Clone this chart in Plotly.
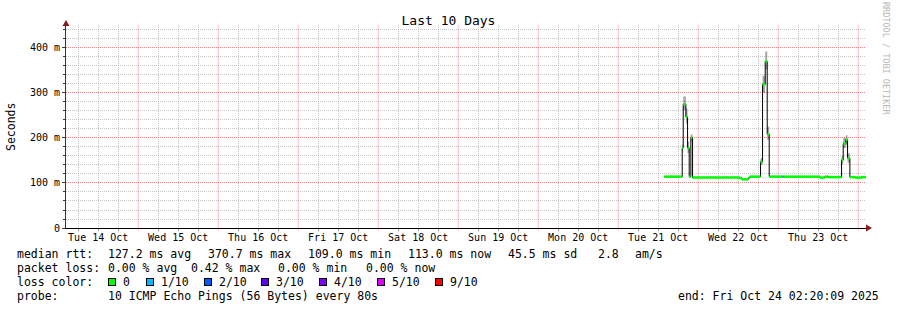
import pandas as pd
import plotly.graph_objects as go

# ---------------- data ----------------
START = "2025-10-14 02:20:09"
END = "2025-10-24 02:20:09"

times = [
    "2025-10-21 13:48", "2025-10-21 19:12", "2025-10-21 19:30", "2025-10-21 20:18",
    "2025-10-21 20:48", "2025-10-21 21:18", "2025-10-21 21:48", "2025-10-21 22:18",
    "2025-10-22 12:30", "2025-10-22 13:06", "2025-10-22 15:00", "2025-10-22 15:30",
    "2025-10-22 18:42", "2025-10-22 19:18", "2025-10-22 20:06", "2025-10-22 20:42",
    "2025-10-22 21:18", "2025-10-23 01:18", "2025-10-23 01:42", "2025-10-23 12:30",
    "2025-10-23 14:00", "2025-10-23 15:00", "2025-10-23 19:00", "2025-10-23 19:30",
    "2025-10-23 20:18", "2025-10-23 20:48", "2025-10-23 21:30", "2025-10-23 23:00",
    "2025-10-24 01:00",
]
median_ms = [114, 178, 275, 247, 178, 114, 201, 112,
             111, 108, 111, 114, 147, 319, 370, 208,
             114, 114, 114, 112, 114, 113, 151, 188,
             196, 155, 113, 112, 113]
smoke_lo_ms = [113, 170, 262, 232, 166, 113, 192, 111,
               110, 107, 110, 113, 140, 300, 352, 196,
               113, 113, 113, 111, 113, 112, 142, 178,
               184, 145, 112, 111, 112]
smoke_hi_ms = [116, 186, 292, 265, 192, 116, 208, 114,
               113, 110, 113, 116, 155, 338, 392, 225,
               116, 116, 116, 114, 116, 115, 160, 200,
               206, 166, 115, 114, 115]
loss_count = [0, 0, 0, 0, 0, 0, 0, 0,
              0, 0, 0, 0, 0, 0, 0, 0,
              0, 1, 0, 0, 0, 0, 0, 0,
              0, 0, 0, 0, 0]

loss_labels = ["0", "1/10", "2/10", "3/10", "4/10", "5/10", "9/10"]
loss_levels = [0, 1, 2, 3, 4, 5, 9]
loss_colors = ["#00ff00", "#00b8ff", "#0059ff", "#5e00ff", "#7e00ff", "#dd00ff", "#ff0000"]

y_tickvals = [0, 100, 200, 300, 400]
y_ticktext = ["0", "100 m", "200 m", "300 m", "400 m"]

stats_median = ["127.2 ms avg", "370.7 ms max", "109.0 ms min", "113.0 ms now", "45.5 ms sd", "2.8", "am/s"]
stats_loss = ["0.00 % avg", "0.42 % max", "0.00 % min", "0.00 % now"]
probe_text = "10 ICMP Echo Pings (56 Bytes) every 80s"
end_text = "end: Fri Oct 24 02:20:09 2025"

# ---------------- layout geometry ----------------
W, H = 897, 310
L, R, T, B = 66, 866, 25, 228
PW, PH = R - L, B - T
FONT = "DejaVu Sans Mono"


def fx(px):
    return (px - L) / PW


def fy(py):
    return (B - py) / PH


# grid positions: days (major, red) and every 6 h (minor, grey); 100 m / 20 m on y
day_lines = [t.strftime("%Y-%m-%d") for t in pd.date_range("2025-10-15", "2025-10-24", freq="D")]
x_minor = [t.strftime("%Y-%m-%d %H:%M") for t in
           pd.date_range("2025-10-14 06:00", "2025-10-24 00:00", freq="6h") if t.hour != 0]
y_minor = [v for v in range(20, 451, 20) if v % 100]

grid_major = "rgba(245,110,110,0.85)"
grid_minor = "rgba(150,150,150,0.55)"

fig = go.Figure()

xs = times + [END]

# smoke band
fig.add_trace(go.Scatter(x=xs, y=smoke_lo_ms + [smoke_lo_ms[-1]], mode="lines",
                         line=dict(width=0, shape="hv"), hoverinfo="skip", showlegend=False))
fig.add_trace(go.Scatter(x=xs, y=smoke_hi_ms + [smoke_hi_ms[-1]], mode="lines",
                         line=dict(width=0, shape="hv"), fill="tonexty",
                         fillcolor="rgba(60,60,60,0.45)", hoverinfo="skip", showlegend=False))

# black median step line
fig.add_trace(go.Scatter(x=xs, y=median_ms + [median_ms[-1]], mode="lines",
                         line=dict(color="black", width=1, shape="hv"),
                         hoverinfo="skip", showlegend=False))

# coloured median segments by loss
for lvl, col in zip(loss_levels, loss_colors):
    sx, sy = [], []
    for i, t in enumerate(times):
        if loss_count[i] == lvl:
            sx += [t, xs[i + 1], None]
            sy += [median_ms[i], median_ms[i], None]
    if sx:
        fig.add_trace(go.Scatter(x=sx, y=sy, mode="lines",
                                 line=dict(color=col, width=2.5),
                                 hoverinfo="skip", showlegend=False))

annotations = []


def text(px, py, s, size=11.5, anchor="left", color="#000000", angle=0):
    annotations.append(dict(x=fx(px), y=fy(py), xref="paper", yref="paper", text=s,
                            showarrow=False, xanchor=anchor, yanchor="middle",
                            font=dict(family=FONT, size=size, color=color),
                            textangle=angle, borderpad=0))


# y axis title
text(11, 127, "Seconds", size=11.5, anchor="center", angle=-90)
# watermark
text(886, 59, "RRDTOOL / TOBI OETIKER", size=8.5, anchor="center", color="#b8b8b8", angle=90)

# legend lines
text(16, 254, "median rtt:")
for s, px in zip(stats_median, [107, 207, 307, 407, 507, 597, 634]):
    text(px, 254, s)
text(16, 268, "packet loss:")
for s, px in zip(stats_loss, [107, 190, 277, 365]):
    text(px, 268, s)
text(16, 282, "loss color:")
sq_left = [108, 146, 203.5, 261, 319, 377, 435]
for lab, col, sl in zip(loss_labels, loss_colors, sq_left):
    annotations.append(dict(x=fx(sl), y=fy(282), xref="paper", yref="paper", text="",
                            showarrow=False, xanchor="left", yanchor="middle",
                            width=6, height=6, bgcolor=col, bordercolor="black",
                            borderwidth=1, borderpad=0))
    text(sl + 14, 282, lab)
text(16, 296, "probe:")
text(107, 296, probe_text)
text(880, 296, end_text, anchor="right")

shapes = [
    dict(type="line", xref="x", yref="paper", x0=d, x1=d, y0=-0.012, y1=1,
         line=dict(color=grid_major, width=1, dash="1px,1px"), layer="below")
    for d in day_lines
]
shapes += [
    dict(type="path", xref="paper", yref="paper", xsizemode="pixel", ysizemode="pixel",
         xanchor=0, yanchor=1, path="M-3.5,-1 L3.5,-1 L0,5 Z",
         fillcolor="#8b1a1a", line=dict(width=0), layer="above"),
    dict(type="path", xref="paper", yref="paper", xsizemode="pixel", ysizemode="pixel",
         xanchor=1, yanchor=0, path="M0,-3.5 L0,3.5 L6,0 Z",
         fillcolor="#8b1a1a", line=dict(width=0), layer="above"),
]

fig.update_layout(
    width=W, height=H,
    margin=dict(l=L, r=W - R, t=T, b=H - B, pad=0),
    paper_bgcolor="white", plot_bgcolor="white",
    title=dict(text="Last 10 Days", x=0.5, xref="container", xanchor="center",
               y=1 - 20 / H, yref="container", yanchor="middle",
               font=dict(family=FONT, size=13, color="black")),
    annotations=annotations,
    shapes=shapes,
    xaxis=dict(
        type="date", range=[START, END],
        tick0="2025-10-14", dtick=86400000, tickformat="%a %d %b",
        ticklabelmode="period",
        showgrid=False,
        ticks="", 
        showline=True, linecolor="black", linewidth=1,
        zeroline=False,
        tickfont=dict(family=FONT, size=10, color="black"),
        minor=dict(tickmode="array", tickvals=x_minor, showgrid=True,
                   gridcolor=grid_minor, griddash="1px,1px", gridwidth=1,
                   ticks="outside", ticklen=2, tickcolor="rgba(120,120,120,0.8)"),
    ),
    yaxis=dict(
        range=[0, 451], tickvals=y_tickvals, ticktext=y_ticktext,
        showgrid=True, gridcolor=grid_major, griddash="1px,1px", gridwidth=1,
        ticks="outside", ticklen=3, tickcolor="rgba(60,60,60,1)",
        showline=True, linecolor="#333333", linewidth=1,
        zeroline=False,
        tickfont=dict(family=FONT, size=10, color="black"),
        minor=dict(tickmode="array", tickvals=y_minor, showgrid=True, gridcolor=grid_minor,
                   griddash="1px,1px", gridwidth=1,
                   ticks="outside", ticklen=2, tickcolor="rgba(60,60,60,1)"),
    ),
)

fig.write_html("out.html")
